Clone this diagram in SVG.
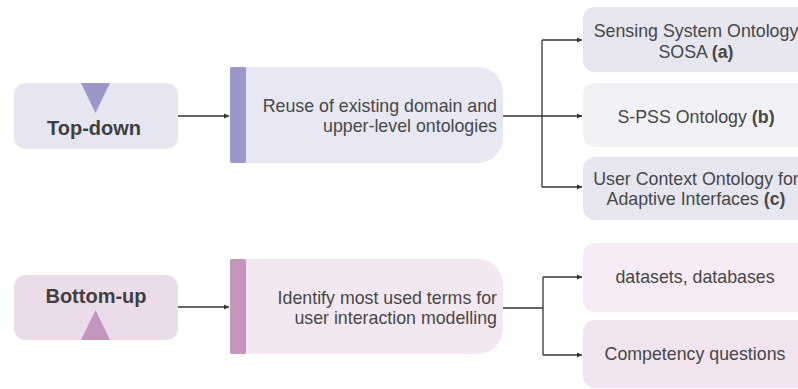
<svg xmlns="http://www.w3.org/2000/svg" width="798" height="389" viewBox="0 0 798 389">
<style>
text{font-family:"Liberation Sans",Arial,sans-serif;fill:#474747}
.t{font-size:17.8px}
.b{font-size:20px;font-weight:bold;fill:#3f3f3f}
.c{fill:none;stroke:#333;stroke-width:1.3}
</style>
<defs>
<marker id="ah" viewBox="0 0 6 6" refX="6" refY="3" markerWidth="4" markerHeight="4" orient="auto" markerUnits="strokeWidth">
<path d="M0,0 L6,3 L0,6 Z" fill="#333"/>
</marker>
</defs>
<rect width="798" height="389" fill="#fff"/>
<g id="topdown">
<rect x="14" y="83" width="164" height="66" rx="12" fill="#e6e6f2"/>
<path d="M81,83 L110,83 L95.5,113 Z" fill="#9b98c9"/>
<text class="b" x="94" y="135" text-anchor="middle">Top-down</text>
</g>
<g id="reuse">
<path d="M230,67 H478 A25,25 0 0 1 503,92 V138 A25,25 0 0 1 478,163 H230 Z" fill="#e8e8f4"/>
<rect x="230" y="67" width="16" height="96" rx="2" fill="#9b98c9"/>
<text class="t" x="497" y="112" text-anchor="end">Reuse of existing domain and</text>
<text class="t" x="497" y="132" text-anchor="end">upper-level ontologies</text>
</g>
<g id="sosa">
<rect x="583" y="7" width="240" height="65" rx="12" fill="#e6e6f0"/>
<text class="t" x="696" y="37" text-anchor="middle">Sensing System Ontology</text>
<text class="t" x="696" y="58" text-anchor="middle">SOSA <tspan font-weight="bold">(a)</tspan></text>
</g>
<g id="spss">
<rect x="583" y="83" width="240" height="64" rx="12" fill="#f2f2f6"/>
<text class="t" x="696" y="123" text-anchor="middle">S-PSS Ontology <tspan font-weight="bold">(b)</tspan></text>
</g>
<g id="usercontext">
<rect x="583" y="157" width="240" height="63" rx="12" fill="#e6e6f0"/>
<text class="t" x="696" y="185" text-anchor="middle">User Context Ontology for</text>
<text class="t" x="696" y="205" text-anchor="middle">Adaptive Interfaces <tspan font-weight="bold">(c)</tspan></text>
</g>
<g id="bottomup">
<rect x="14" y="275" width="164" height="65" rx="12" fill="#ecdcea"/>
<path d="M81,340 L110,340 L95.5,310 Z" fill="#c394bc"/>
<text class="b" x="96" y="303" text-anchor="middle">Bottom-up</text>
</g>
<g id="identify">
<path d="M230,259 H478 A25,25 0 0 1 503,284 V329 A25,25 0 0 1 478,354 H230 Z" fill="#f3e8f1"/>
<rect x="230" y="259" width="16" height="95" rx="2" fill="#c394bc"/>
<text class="t" x="497" y="304" text-anchor="end">Identify most used terms for</text>
<text class="t" x="497" y="324" text-anchor="end">user interaction modelling</text>
</g>
<g id="datasets">
<rect x="583" y="243" width="240" height="69" rx="12" fill="#f7ebf5"/>
<text class="t" x="695" y="283" text-anchor="middle">datasets, databases</text>
</g>
<g id="competency">
<rect x="583" y="320" width="240" height="68" rx="12" fill="#f1e4ef"/>
<text class="t" x="695" y="360" text-anchor="middle">Competency questions</text>
</g>
<g id="connectors">
<path class="c" d="M178,116 H229" marker-end="url(#ah)"/>
<path class="c" d="M503,116 H542"/>
<path class="c" d="M542,40 V187"/>
<path class="c" d="M542,40 H582" marker-end="url(#ah)"/>
<path class="c" d="M542,116 H582" marker-end="url(#ah)"/>
<path class="c" d="M542,187 H582" marker-end="url(#ah)"/>
<path class="c" d="M178,307 H229" marker-end="url(#ah)"/>
<path class="c" d="M503,308 H543"/>
<path class="c" d="M543,277 V355"/>
<path class="c" d="M543,277 H582" marker-end="url(#ah)"/>
<path class="c" d="M543,355 H582" marker-end="url(#ah)"/>
</g>
</svg>
